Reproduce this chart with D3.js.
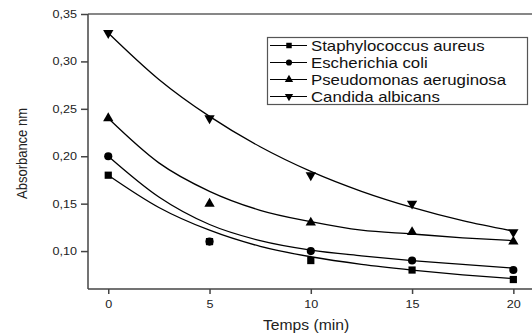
<!DOCTYPE html>
<html>
<head>
<meta charset="utf-8">
<script src="https://cdn.jsdelivr.net/npm/d3@7"></script>
<style>
  html, body { margin: 0; padding: 0; background: #fff; }
  svg { display: block; font-family: "Liberation Sans", Arial, sans-serif; }
</style>
</head>
<body>
<svg id="chart" width="532" height="336"></svg>
<script>
// Absorbance measured over time for four strains
const times = [0, 5, 10, 15, 20];
const seriesNames = ["Staphylococcus aureus", "Escherichia coli", "Pseudomonas aeruginosa", "Candida albicans"];
const staphylococcus = [0.18, 0.11, 0.09, 0.08, 0.07];
const escherichia = [0.20, 0.11, 0.10, 0.09, 0.08];
const pseudomonas = [0.24, 0.15, 0.13, 0.12, 0.11];
const candida = [0.33, 0.24, 0.18, 0.15, 0.12];

// Fitted decay curves, sampled every 2.5 min
const fitTimes = [0, 2.5, 5, 7.5, 10, 12.5, 15, 17.5, 20];
const staphylococcusFit = [0.180, 0.146, 0.122, 0.105, 0.094, 0.086, 0.080, 0.075, 0.071];
const escherichiaFit = [0.200, 0.157, 0.128, 0.111, 0.101, 0.095, 0.090, 0.086, 0.082];
const pseudomonasFit = [0.240, 0.193, 0.163, 0.143, 0.131, 0.122, 0.118, 0.114, 0.111];
const candidaFit = [0.330, 0.281, 0.242, 0.210, 0.184, 0.163, 0.146, 0.132, 0.121];

const xTicks = [0, 5, 10, 15, 20];
const xMinorTicks = [2.5, 7.5, 12.5, 17.5];
const yTicks = [0.10, 0.15, 0.20, 0.25, 0.30, 0.35];
const yMinorTicks = [0.075, 0.125, 0.175, 0.225, 0.275, 0.325];

const series = [
  { name: seriesNames[0], values: staphylococcus, fit: staphylococcusFit, symbol: d3.symbolSquare },
  { name: seriesNames[1], values: escherichia, fit: escherichiaFit, symbol: d3.symbolCircle },
  { name: seriesNames[2], values: pseudomonas, fit: pseudomonasFit, symbol: d3.symbolTriangle },
  { name: seriesNames[3], values: candida, fit: candidaFit, symbol: d3.symbolTriangle, flip: true }
];

const svg = d3.select("#chart");
const plotLeft = 88, plotTop = 14, plotBottom = 289, plotRight = 533.6;
const sx = 1.2; // glyph width factor

const x = d3.scaleLinear().domain([-1, 21]).range([plotLeft, plotRight]);
const y = d3.scaleLinear().domain([0.06, 0.35]).range([plotBottom, plotTop]);
const fmt = d3.format(".2f");
const comma = v => fmt(v).replace(".", ",");

// frame: top line
svg.append("line")
  .attr("x1", plotLeft).attr("x2", 532).attr("y1", plotTop).attr("y2", plotTop)
  .attr("stroke", "#111").attr("stroke-width", 1.2);

// y axis
const gy = svg.append("g").attr("transform", `translate(${plotLeft},0)`);
gy.call(d3.axisLeft(y).tickValues(yMinorTicks).tickSize(4).tickFormat(""));
gy.call(d3.axisLeft(y).tickValues(yTicks).tickSize(7).tickPadding(4).tickFormat(comma));
gy.select(".domain").attr("d", `M0,${plotTop}V${plotBottom}`);
gy.selectAll("path, line").attr("stroke", "#444").attr("stroke-width", 1.5);
gy.selectAll("text")
  .attr("font-size", 10.5).attr("fill", "#222")
  .attr("x", -11 / sx)
  .attr("transform", `scale(${sx},1)`);

// x axis
const gx = svg.append("g").attr("transform", `translate(0,${plotBottom})`);
gx.call(d3.axisBottom(x).tickValues(xMinorTicks).tickSize(3).tickFormat(""));
gx.call(d3.axisBottom(x).tickValues(xTicks).tickSize(5).tickPadding(7).tickFormat(d3.format("d")));
gx.select(".domain").attr("d", `M${plotLeft},0H532`);
gx.selectAll("path, line").attr("stroke", "#444").attr("stroke-width", 1.5);
gx.selectAll("text")
  .attr("font-size", 10.5).attr("fill", "#222")
  .attr("transform", `scale(${sx},1)`);

// axis titles
svg.append("text")
  .attr("transform", `translate(306,329.5) scale(1.12,1)`)
  .attr("text-anchor", "middle").attr("font-size", 14).attr("fill", "#222")
  .text("Temps (min)");
svg.append("text")
  .attr("transform", `translate(27,153.5) rotate(-90) scale(1,1.14)`)
  .attr("text-anchor", "middle").attr("font-size", 13).attr("fill", "#222")
  .text("Absorbance nm");

// fitted curves
const line = d3.line()
  .x((d, i) => x(fitTimes[i]))
  .y(d => y(d))
  .curve(d3.curveMonotoneX);
svg.append("g").selectAll("path").data(series).join("path")
  .attr("d", s => line(s.fit))
  .attr("fill", "none").attr("stroke", "#000").attr("stroke-width", 1.3);

// data markers
const markerSize = s => s.symbol === d3.symbolTriangle ? 46 : 52;
series.forEach(s => {
  svg.append("g").selectAll("path").data(s.values).join("path")
    .attr("transform", (d, i) => `translate(${x(times[i])},${y(d)})${s.flip ? " rotate(180)" : ""}`)
    .attr("d", d3.symbol().type(s.symbol).size(markerSize(s)))
    .attr("fill", "#000");
});

// legend
const lg = svg.append("g");
lg.append("rect")
  .attr("x", 267.5).attr("y", 37.5).attr("width", 260).attr("height", 67)
  .attr("fill", "#fff").attr("stroke", "#555").attr("stroke-width", 1.2);
series.forEach((s, i) => {
  const cy = 45.5 + i * 17;
  lg.append("line").attr("x1", 270).attr("x2", 307).attr("y1", cy).attr("y2", cy)
    .attr("stroke", "#000").attr("stroke-width", 1.2);
  lg.append("path")
    .attr("transform", `translate(289,${cy})${s.flip ? " rotate(180)" : ""}`)
    .attr("d", d3.symbol().type(s.symbol).size(30))
    .attr("fill", "#000");
  lg.append("text")
    .attr("transform", `translate(311,${cy + 5}) scale(1.2,1)`)
    .attr("font-size", 14).attr("fill", "#111")
    .text(s.name);
});
</script>
</body>
</html>
